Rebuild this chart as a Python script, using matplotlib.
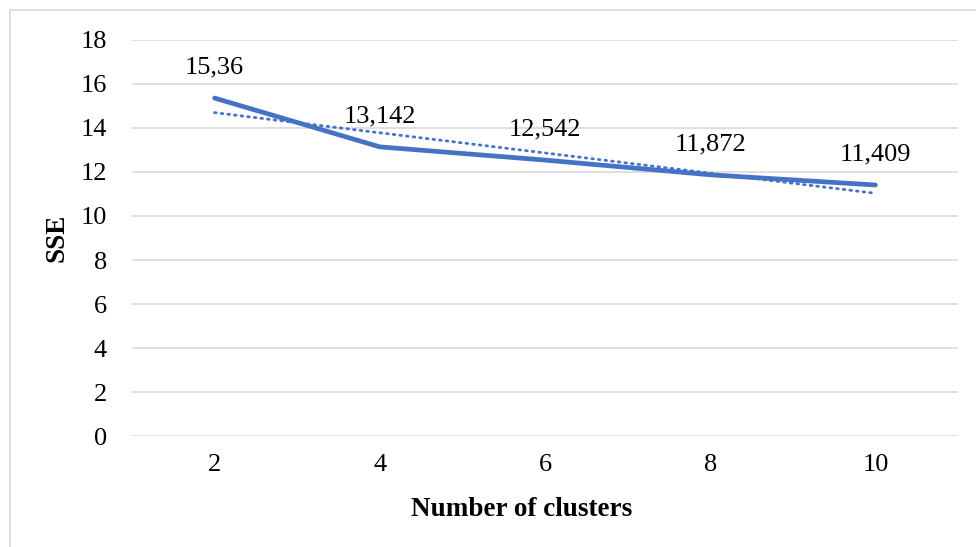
import numpy as np
import matplotlib
matplotlib.use("Agg")
import matplotlib.pyplot as plt
from matplotlib.patches import Rectangle

# Data
clusters = [2, 4, 6, 8, 10]
sse = [15.36, 13.142, 12.542, 11.872, 11.409]
point_labels = ["15,36", "13,142", "12,542", "11,872", "11,409"]

plt.rcParams['font.family'] = ['Liberation Serif', 'DejaVu Serif']

fig = plt.figure(figsize=(9.76, 5.47), dpi=100)
ax = fig.add_axes([0.1352, 0.2029, 0.8464, 0.724])

pos = np.arange(len(clusters))

# Linear trendline (Excel style, fitted on category index)
coef = np.polyfit(pos + 1, sse, 1)
trend = np.polyval(coef, pos + 1)

ax.plot(pos, sse, color='#4472C4', linewidth=3.4, solid_capstyle='round', zorder=3)
ax.plot(pos, trend, color='#4472C4', linewidth=2.0, linestyle=(0, (0.6, 1.8)),
        dash_capstyle='round', zorder=2)

for x, y, lab in zip(pos, sse, point_labels):
    ax.annotate(lab, (x, y), xytext=(0, 14), textcoords='offset points',
                ha='center', va='bottom', fontsize=19)

ax.set_xlim(-0.5, len(clusters) - 0.5)
ax.set_ylim(0, 18)
ax.set_yticks(range(0, 19, 2))
ax.set_xticks(pos)
ax.set_xticklabels([str(c) for c in clusters])
ax.tick_params(axis='both', length=0, labelsize=19)
ax.tick_params(axis='x', pad=13)
ax.tick_params(axis='y', pad=18)
ax.grid(axis='y', color='#D9D9D9', linewidth=1.2)
ax.set_axisbelow(True)
for s in ax.spines.values():
    s.set_visible(False)

ax.set_xlabel("Number of clusters", fontsize=19.5, fontweight='bold', labelpad=15)
ax.xaxis.label.set_x(0.472)
ax.set_ylabel("SSE", fontsize=19.5, fontweight='bold', labelpad=8)

# chart border
fig.patches.append(Rectangle((10 / 976, -0.1), 1.2, 1 - 10 / 547 + 0.1,
                             transform=fig.transFigure, fill=False,
                             edgecolor='#D9D9D9', linewidth=1.2))

fig.savefig("out.png", dpi=100)
